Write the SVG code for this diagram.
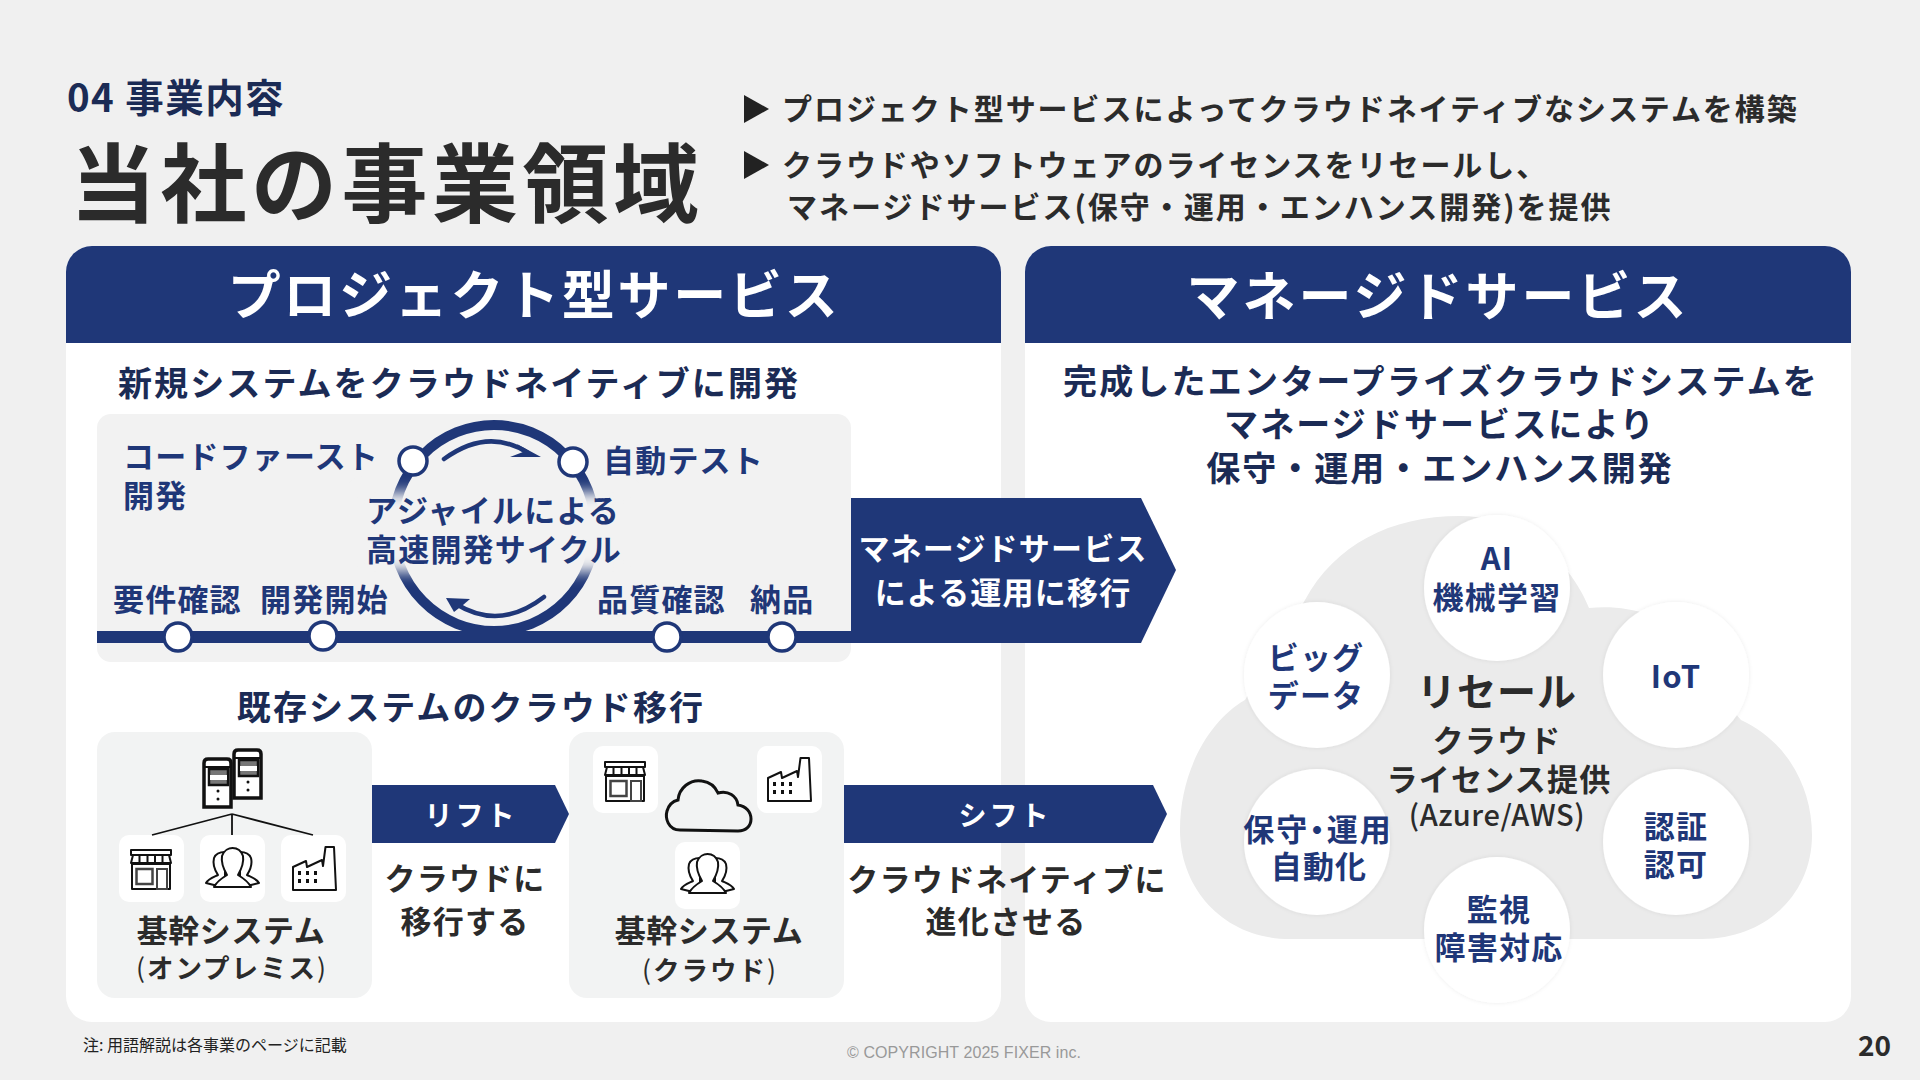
<svg xmlns="http://www.w3.org/2000/svg" width="1920" height="1080" viewBox="0 0 1920 1080">
<style>
text{font-family:"Noto Sans CJK JP","Noto Sans",sans-serif;font-weight:700}
.m{text-anchor:middle}
.navy{fill:#1f3778}
.dk{fill:#1b2b55}
.ink{fill:#2b2b2b}
.w{fill:#fff}
.t30{font-size:31px;letter-spacing:1.200px}
.b{fill:#1f3778}
.soft{fill:#f2f3f3}
.card{fill:#fff}
.ic{fill:#fff;stroke:#111;stroke-width:2;stroke-linejoin:round}
.nd{fill:#fff;stroke:#1f3778;stroke-width:3.5}
.orb{fill:#fff;filter:url(#sh)}
.par{font-weight:400}
</style>
<defs>
<filter id="bl" x="-20%" y="-30%" width="140%" height="160%"><feGaussianBlur stdDeviation="7"/></filter>
<filter id="sh" x="-10%" y="-10%" width="120%" height="120%"><feDropShadow dx="0" dy="0" stdDeviation="2" flood-color="#000" flood-opacity=".08"/></filter>
<g id="shop"><rect x="1" y="1" width="40" height="5" class="ic"/><path d="M3 6H39L41 14H1Z" class="ic"/><path d="M9.5 6V14M17.5 6V14M25 6V14M32.5 6V14" stroke="#111" stroke-width="2"/><rect x="2" y="15" width="38" height="25" class="ic"/><rect x="6.500" y="20" width="16" height="15" fill="#fff" stroke="#444" stroke-width="2.500"/><rect x="27" y="20" width="10" height="20" fill="#fff" stroke="#444" stroke-width="2"/></g>
<g id="people"><path d="M9 38L1 36C3 32 9 30 13 28C9 22 8 15 9 11C11 6 15 5 20 5V38Z" class="ic"/><path d="M46 38L54 36C52 32 46 30 42 28C46 22 47 15 46 11C44 6 40 5 35 5V38Z" class="ic"/><path d="M9 40C12 34 17 31 22 28C18 21 16 15 17 9C19 3 24 1 27.500 1C32 1 36 3 38 9C39 15 37 21 33 28C38 31 43 34 46 40Z" class="ic"/></g>
<g id="factory"><path d="M1 44V21L14 15L15 21L30 14L31 20L33.500 1H42L44 44Z" class="ic"/><path d="M6 25h3v4h-3zM14 25h3v4h-3zM22 25h3v4h-3zM6 33h3v4h-3zM14 33h3v4h-3zM22 33h3v4h-3z" fill="#111"/></g>
<g id="tower"><path d="M2 6Q2 2 6 2H25Q29 2 29 6V50H2Z" fill="#fff" stroke="#111" stroke-width="3.500"/><path d="M2 10H29" stroke="#111" stroke-width="2"/><rect x="7" y="12" width="19" height="16" fill="#777" stroke="#111" stroke-width="2.500"/><rect x="8" y="18" width="17" height="5" fill="#fff"/><circle cx="16" cy="34" r="1.500" fill="#111"/><circle cx="16" cy="42" r="1.500" fill="#111"/></g>
</defs>
<rect width="1920" height="1080" fill="#f0f0f0"/>

<g id="heading">
<text x="67" y="112" font-size="38.5" letter-spacing="1.400" style="fill:#1b2b55">04 事業内容</text>
<text x="70" y="216" font-size="86" letter-spacing="4.500" class="ink">当社の事業領域</text>
<path d="M744 95L769 109L744 123Z" fill="#222"/>
<path d="M744 151L769 165L744 179Z" fill="#222"/>
<text x="782" y="120" font-size="30" letter-spacing="1.950" class="ink">プロジェクト型サービスによってクラウドネイティブなシステムを構築</text>
<text x="782" y="176" font-size="30" letter-spacing="1.950" class="ink">クラウドやソフトウェアのライセンスをリセールし、</text>
<text x="787" y="218" font-size="30" letter-spacing="2" class="ink">マネージドサービス(保守・運用・エンハンス開発)を提供</text>
</g>

<g id="panel-project">
<rect x="66" y="246" width="935" height="776" rx="26" fill="#fff"/>
<path d="M66 343V272A26 26 0 0 1 92 246H975A26 26 0 0 1 1001 272V343Z" class="b"/>
<text x="534" y="315" font-size="53" letter-spacing="2.700" class="m w">プロジェクト型サービス</text>
<text x="118" y="396" font-size="34" letter-spacing="2.100" class="dk">新規システムをクラウドネイティブに開発</text>
<text x="471" y="720" font-size="34" letter-spacing="2.100" class="m dk">既存システムのクラウド移行</text>
</g>

<g id="panel-managed">
<rect x="1025" y="246" width="826" height="776" rx="26" fill="#fff"/>
<path d="M1025 343V272A26 26 0 0 1 1051 246H1825A26 26 0 0 1 1851 272V343Z" class="b"/>
<text x="1438" y="316" font-size="53" letter-spacing="3" class="m w">マネージドサービス</text>
<text x="1441" y="394" font-size="34" letter-spacing="2.200" class="m dk">完成したエンタープライズクラウドシステムを</text>
<text x="1440" y="437" font-size="34" letter-spacing="2.100" class="m dk">マネージドサービスにより</text>
<text x="1440" y="481" font-size="34" letter-spacing="2" class="m dk">保守・運用・エンハンス開発</text>
</g>

<g id="agile">
<rect x="97" y="414" width="754" height="248" rx="14" fill="#f2f2f2"/>
<ellipse cx="494" cy="528" rx="101" ry="103" fill="none" stroke="#1f3778" stroke-width="10"/>
<rect x="362" y="492" width="264" height="80" fill="#f2f2f2" filter="url(#bl)"/>
<rect x="97" y="631" width="754" height="12" class="b"/>
<path d="M444 459Q488 427 528 453" fill="none" stroke="#1f3778" stroke-width="4.500" stroke-linecap="round"/>
<path d="M541 457L517 444L523 452L510 457Z" class="b"/>
<path d="M544 597Q500 631 456 604" fill="none" stroke="#1f3778" stroke-width="4.500" stroke-linecap="round"/>
<path d="M446 598L470 599L463 605L454 612Z" class="b"/>
<circle cx="413" cy="461" r="14" class="nd"/>
<circle cx="573" cy="462" r="14" class="nd"/>
<circle cx="178" cy="637" r="14" class="nd"/>
<circle cx="323" cy="636" r="14" class="nd"/>
<circle cx="667" cy="637" r="14" class="nd"/>
<circle cx="782" cy="637" r="14" class="nd"/>
<text x="123" y="468" class="t30 navy">コードファースト</text>
<text x="123" y="507" class="t30 navy">開発</text>
<text x="603" y="472" class="t30 navy">自動テスト</text>
<text x="366" y="522" class="t30 navy">アジャイルによる</text>
<text x="366" y="561" class="t30 navy">高速開発サイクル</text>
<text x="113" y="611" class="t30 navy">要件確認</text>
<text x="260" y="611" class="t30 navy">開発開始</text>
<text x="597" y="611" class="t30 navy">品質確認</text>
<text x="750" y="611" class="t30 navy">納品</text>
</g>

<g id="onprem">
<rect x="97" y="732" width="275" height="266" rx="18" class="soft"/>
<use href="#tower" x="232" y="748"/>
<use href="#tower" x="202" y="757"/>
<rect x="119" y="835" width="65" height="67" rx="10" class="card"/>
<rect x="200" y="835" width="65" height="67" rx="10" class="card"/>
<rect x="281" y="835" width="65" height="67" rx="10" class="card"/>
<use href="#shop" x="130" y="849"/>
<use href="#people" x="205" y="847"/>
<use href="#factory" x="292" y="846"/>
<text x="231" y="942" class="t30 m ink" style="letter-spacing:.6px">基幹システム</text>
<text x="232" y="978" font-size="26.5" letter-spacing="2" class="m ink"><tspan class="par">(</tspan>オンプレミス<tspan class="par">)</tspan></text>
</g>

<g id="cloud-system">
<rect x="569" y="732" width="275" height="266" rx="18" class="soft"/>
<rect x="593" y="746" width="65" height="67" rx="10" class="card"/>
<rect x="757" y="746" width="65" height="67" rx="10" class="card"/>
<rect x="675" y="842" width="65" height="67" rx="10" class="card"/>
<use href="#shop" x="604" y="761"/>
<use href="#factory" x="767" y="757"/>
<use href="#people" x="680" y="853"/>
<path d="M680 830C668 830 665 818 667 811C669 804 674 801 678 800C679 788 690 779 702 781C709 782 715 786 718 793C728 790 737 796 738 805C746 806 751 812 751 819C751 826 746 831 738 831Z" fill="none" stroke="#111" stroke-width="3"/>
<text x="709" y="942" class="t30 m ink" style="letter-spacing:.6px">基幹システム</text>
<text x="710" y="980" font-size="26.5" letter-spacing="2" class="m ink"><tspan class="par">(</tspan>クラウド<tspan class="par">)</tspan></text>
</g>

<g id="connectors">
<path d="M851 498H1141L1176 570L1141 643H851Z" class="b"/>
<path d="M372 785H555L569 814L555 843H372Z" class="b"/>
<path d="M844 785H1153L1167 814L1153 843H844Z" class="b"/>
<path d="M232 814L152 835M232 814V835M232 814L313 835" stroke="#111" stroke-width="1.800" fill="none"/>
</g>
<g id="connector-labels">
<text x="1003" y="560" class="t30 m w">マネージドサービス</text>
<text x="1003" y="604" class="t30 m w">による運用に移行</text>
<text x="471" y="826" font-size="28" letter-spacing="3" class="m w">リフト</text>
<text x="1005" y="826" font-size="28" letter-spacing="3" class="m w">シフト</text>
<text x="465" y="890" class="t30 m ink">クラウドに</text>
<text x="465" y="933" class="t30 m ink">移行する</text>
<text x="1007" y="891" class="t30 m ink">クラウドネイティブに</text>
<text x="1006" y="933" class="t30 m ink">進化させる</text>
</g>

<g id="resale-cloud">
<path d="M1290 939C1225 939 1180 890 1180 830C1180 770 1210 720 1245 700L1305 600C1335 545 1390 516 1460 516C1520 516 1570 560 1589 608C1610 606 1630 608 1650 615L1741 720C1785 740 1812 785 1812 835C1812 895 1765 939 1702 939Z" fill="#ebebeb"/>
<text x="1497" y="706" font-size="39" letter-spacing="1" class="m ink">リセール</text>
<text x="1497" y="752" class="t30 m ink">クラウド</text>
<text x="1499" y="791" class="t30 m ink">ライセンス提供</text>
<text x="1497" y="826" font-size="29" letter-spacing=".6" style="font-weight:500" class="m ink">(Azure/AWS)</text>
</g>
<g id="orb-ai"><circle cx="1497" cy="588" r="73" class="orb"/><text x="1497" y="570" class="t30 m navy">AI</text><text x="1497" y="609" class="t30 m navy">機械学習</text></g>
<g id="orb-bigdata"><circle cx="1317" cy="675" r="73" class="orb"/><text x="1316" y="669" class="t30 m navy">ビッグ</text><text x="1316" y="707" class="t30 m navy">データ</text></g>
<g id="orb-iot"><circle cx="1676" cy="675" r="73" class="orb"/><text x="1676" y="688" class="t30 m navy">IoT</text></g>
<g id="orb-ops"><circle cx="1317" cy="842" r="73" class="orb"/><text x="1318" y="841" class="t30 m navy" style="font-feature-settings:'palt';letter-spacing:2px">保守・運用</text><text x="1319" y="878" class="t30 m navy">自動化</text></g>
<g id="orb-auth"><circle cx="1676" cy="842" r="73" class="orb"/><text x="1676" y="838" class="t30 m navy">認証</text><text x="1676" y="876" class="t30 m navy">認可</text></g>
<g id="orb-monitor"><circle cx="1497" cy="930" r="73" class="orb"/><text x="1499" y="921" class="t30 m navy">監視</text><text x="1499" y="959" class="t30 m navy">障害対応</text></g>

<g id="footer">
<text x="83" y="1051" font-size="16" style="font-weight:400;fill:#222">注: 用語解説は各事業のページに記載</text>
<text x="847" y="1058" font-size="16" textLength="234" style="font-weight:400;fill:#999;font-family:'Liberation Sans',sans-serif">© COPYRIGHT 2025 FIXER inc.</text>
<text x="1858" y="1056" font-size="28" class="ink">20</text>
</g>
</svg>
